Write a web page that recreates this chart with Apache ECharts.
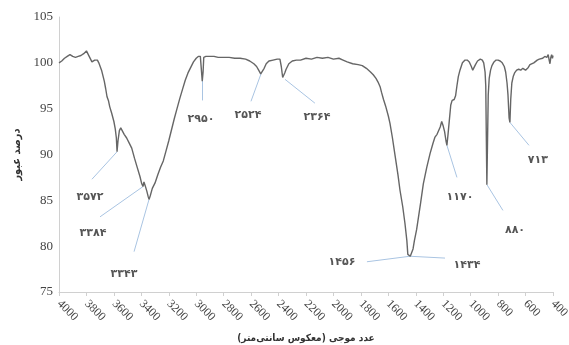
<!DOCTYPE html>
<html><head><meta charset="utf-8">
<script src="https://cdn.jsdelivr.net/npm/echarts@6/dist/echarts.min.js"></script>
<style>html,body{margin:0;padding:0;background:#fff}#c{width:569px;height:345px}</style>
</head><body><div id="c"></div>
<script>
var wavenumbers = [4000,3980,3960,3940,3920,3900,3890,3880,3870,3860,3850,3840,3830,3820,3810,3800,3790,3780,3770,3760,3750,3740,3730,3720,3710,3700,3690,3680,3670,3660,3650,3640,3630,3616,3600,3590,3582,3577,3570,3560,3550,3540,3525,3507,3490,3470,3450,3430,3410,3397,3388,3381,3372,3360,3350,3344,3335,3320,3300,3280,3260,3240,3220,3200,3180,3160,3140,3120,3100,3080,3060,3040,3020,3000,2985,2970,2962,2956,2950,2945,2930,2900,2870,2840,2800,2760,2720,2680,2640,2610,2580,2560,2545,2530,2520,2505,2490,2470,2440,2410,2390,2380,2370,2362,2355,2345,2335,2325,2300,2270,2240,2200,2160,2120,2080,2040,2000,1960,1930,1900,1860,1820,1790,1760,1730,1710,1690,1675,1660,1650,1635,1620,1600,1588,1570,1550,1530,1515,1495,1479,1465,1458,1452,1446,1440,1434,1428,1420,1410,1394,1380,1365,1345,1320,1296,1275,1260,1245,1236,1222,1211,1200,1190,1180,1173,1165,1155,1145,1135,1120,1110,1100,1090,1078,1060,1041,1025,1010,995,985,975,965,950,930,915,905,895,890,886,882,878,872,865,855,845,830,815,800,785,770,755,745,735,728,720,714,708,700,690,680,665,650,635,620,610,600,592,580,568,555,540,531,515,500,490,475,460,445,435,428,422,416,410,404,400];
var transmittance = [100.0,100.2,100.5,100.7,100.9,100.7,100.9,100.6,100.8,100.7,100.9,100.8,100.9,101.0,100.9,101.3,101.1,100.7,100.4,100.1,100.0,100.3,100.5,100.3,100.0,99.8,99.2,98.6,98.0,97.2,96.3,95.9,95.2,94.5,93.6,92.8,91.8,90.3,91.5,92.6,92.9,92.7,92.2,91.8,91.3,90.7,89.6,88.6,87.6,86.8,86.5,87.0,86.6,86.0,85.4,85.1,85.5,86.3,86.9,87.8,88.6,89.3,90.4,91.5,92.7,93.9,95.0,96.1,97.1,98.1,98.9,99.5,100.1,100.5,100.7,100.7,100.6,98.0,99.0,100.6,100.7,100.7,100.7,100.6,100.6,100.6,100.5,100.5,100.4,100.2,99.9,99.6,99.2,98.8,98.9,99.4,99.9,100.2,100.3,100.4,100.4,99.6,98.4,98.3,98.9,99.3,99.6,99.9,100.2,100.3,100.3,100.5,100.4,100.6,100.5,100.6,100.4,100.5,100.3,100.1,99.9,99.8,99.7,99.4,99.0,98.7,98.3,97.9,97.4,96.8,96.0,95.3,94.2,93.4,91.8,89.8,87.8,86.1,84.3,82.5,80.6,79.1,79.0,78.9,78.9,78.9,79.0,79.7,80.6,81.8,83.2,84.7,86.8,88.6,90.1,91.2,91.9,92.2,92.3,93.0,93.6,93.1,92.5,91.5,91.0,92.2,93.8,95.4,95.9,96.0,96.4,97.5,98.5,99.2,100.0,100.3,100.3,100.1,99.6,99.2,99.3,99.8,100.2,100.4,100.3,100.0,99.0,97.5,92.0,86.7,90.5,96.5,98.3,99.2,99.7,100.1,100.3,100.3,100.2,100.0,99.6,99.0,97.8,96.5,94.0,93.5,96.0,97.8,98.5,98.9,99.2,99.3,99.2,99.4,99.5,99.2,99.0,99.5,99.8,99.7,100.0,100.1,100.3,100.4,100.3,100.5,100.7,100.6,100.9,100.3,99.9,100.6,100.9,100.5,100.8];

var xTicks = {min: 400, max: 4000, step: 200};
var yTicks = {min: 75, max: 105, step: 5};

var peakLabels = ['۳۵۷۲','۳۳۸۴','۳۳۴۳','۲۹۵۰','۲۵۲۴','۲۳۶۴','۱۴۵۶','۱۴۳۴','۱۱۷۰','۸۸۰','۷۱۳'];
// leader start (on curve) and end, and text anchor, in data units
var leaderFrom = [[3577,90.3],[3388,86.5],[3344,85.1],[2958,98.1],[2528,98.8],[2353,98.2],[1442,78.9],[1442,78.9],[1173,91.0],[881,86.7],[714,93.5]];
var leaderTo   = [[3760,87.3],[3701,83.2],[3453,79.4],[2958,95.9],[2601,95.8],[2135,95.6],[1756,78.3],[1187,78.7],[1100,87.5],[765,83.9],[575,91.0]];
var textAt     = [[3774,85.4],[3752,81.4],[3526,76.9],[2965,93.9],[2623,94.3],[2120,94.1],[1938,78.3],[1027,77.9],[1078,85.4],[677,81.8],[510,89.4]];

var chart = echarts.init(document.getElementById('c'), null, {renderer:'canvas'});
var curve = wavenumbers.map(function(w,i){return [w, transmittance[i]];});
var leaders = leaderFrom.map(function(f,i){return {coords:[f, leaderTo[i]]};});
var texts = textAt.map(function(p,i){return {name: peakLabels[i], value: p};});

chart.setOption({
  animation: false,
  grid: {left: 59, right: 16, top: 17, bottom: 53, outerBoundsMode: 'none', containLabel: false},
  xAxis: {
    type: 'value', inverse: true, min: xTicks.min, max: xTicks.max, interval: xTicks.step,
    name: 'عدد موجی (معکوس سانتی‌متر)', nameLocation: 'middle', nameGap: 41,
    nameTextStyle: {fontFamily: 'DejaVu Sans Condensed', fontWeight: 'bold', fontSize: 10, color: '#333'},
    axisLine: {show: true, lineStyle: {color: '#d0d0d0', width: 1}},
    axisTick: {show: true, length: 4, lineStyle: {color: '#d0d0d0'}},
    axisLabel: {rotate: -45, fontFamily: 'Liberation Serif', fontSize: 12, color: '#444', margin: 10,
      formatter: function(v){ return String(v); }},
    splitLine: {show: false}
  },
  yAxis: {
    type: 'value', min: yTicks.min, max: yTicks.max, interval: yTicks.step,
    name: 'درصد عبور', nameLocation: 'middle', nameGap: 31,
    nameTextStyle: {fontFamily: 'DejaVu Sans Condensed', fontWeight: 'bold', fontSize: 11, color: '#333'},
    axisLine: {show: true, lineStyle: {color: '#d0d0d0', width: 1}},
    axisTick: {show: false},
    axisLabel: {fontFamily: 'Liberation Serif', fontSize: 13, color: '#444', margin: 6,
      formatter: function(v){ return String(v); }},
    splitLine: {show: false}
  },
  series: [
    {type: 'lines', coordinateSystem: 'cartesian2d', data: leaders, silent: true,
     lineStyle: {color: '#a9c4e2', width: 1, opacity: 1}, z: 1},
    {type: 'line', data: curve, showSymbol: false, symbol: 'none',
     lineStyle: {color: '#666666', width: 1.4}, z: 2},
    {type: 'scatter', data: texts, symbolSize: 0, silent: true,
     label: {show: true, position: 'inside', formatter: '{b}', fontFamily: 'DejaVu Sans', fontSize: 11, color: '#2a2a2a', fontWeight: 'bold'}, z: 3}
  ]
});
</script></body></html>
